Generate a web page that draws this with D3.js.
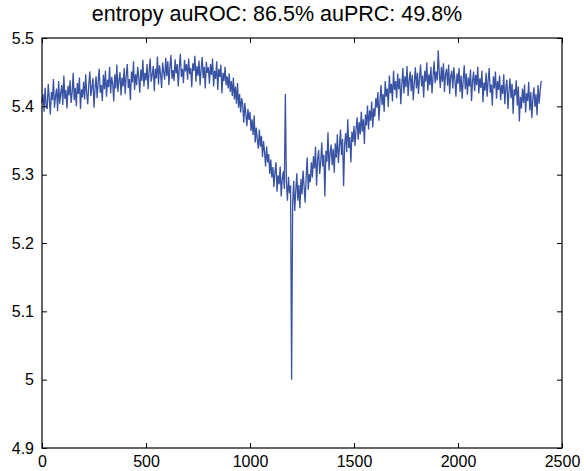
<!DOCTYPE html>
<html>
<head>
<meta charset="utf-8">
<script src="https://cdn.jsdelivr.net/npm/d3@7"></script>
<style>
  body { margin: 0; background: #fff; }
  svg text { font-family: "Liberation Sans", Arial, Helvetica, sans-serif; fill: #000; }
</style>
</head>
<body>
<div id="vis1"></div>
<script>
const FRAME_HEIGHT = 471;
const FRAME_WIDTH = 584;
const MARGINS = {left: 42, right: 22, top: 38, bottom: 23};

const VIS_HEIGHT = FRAME_HEIGHT - MARGINS.top - MARGINS.bottom;
const VIS_WIDTH = FRAME_WIDTH - MARGINS.left - MARGINS.right;

const TITLE = 'entropy auROC: 86.5% auPRC: 49.8%';

const X_TICKS = [0, 500, 1000, 1500, 2000, 2500];
const X_TICK_LABELS = ['0', '500', '1000', '1500', '2000', '2500'];
const Y_TICKS = [4.9, 5, 5.1, 5.2, 5.3, 5.4, 5.5];
const Y_TICK_LABELS = ['4.9', '5', '5.1', '5.2', '5.3', '5.4', '5.5'];

// sample spacing of the values below
const STEP = 5;

// entropy per sample (every 5th sample, one row = 100 samples)
const ENTROPY = [
  5.405, 5.418, 5.392, 5.427, 5.401, 5.396, 5.433, 5.412, 5.388, 5.421, 5.409, 5.440, 5.398, 5.415, 5.426, 5.393, 5.437, 5.404, 5.419, 5.431,
  5.402, 5.445, 5.411, 5.424, 5.397, 5.430, 5.416, 5.438, 5.405, 5.421, 5.449, 5.409, 5.427, 5.400, 5.434, 5.418, 5.442, 5.396, 5.425, 5.413,
  5.436, 5.410, 5.447, 5.419, 5.403, 5.432, 5.451, 5.415, 5.428, 5.441, 5.398, 5.426, 5.444, 5.412, 5.435, 5.455, 5.420, 5.431, 5.408, 5.446,
  5.425, 5.452, 5.414, 5.439, 5.428, 5.458, 5.419, 5.443, 5.433, 5.407, 5.447, 5.426, 5.461, 5.421, 5.438, 5.450, 5.416, 5.442, 5.429, 5.456,
  5.418, 5.445, 5.462, 5.427, 5.440, 5.409, 5.451, 5.435, 5.466, 5.424, 5.447, 5.431, 5.458, 5.443, 5.420, 5.454, 5.437, 5.468, 5.429, 5.449,
  5.438, 5.462, 5.425, 5.451, 5.470, 5.436, 5.447, 5.459, 5.422, 5.455, 5.441, 5.473, 5.432, 5.460, 5.448, 5.427, 5.464, 5.450, 5.439, 5.471,
  5.444, 5.466, 5.431, 5.458, 5.475, 5.440, 5.453, 5.437, 5.469, 5.448, 5.462, 5.429, 5.457, 5.477, 5.443, 5.455, 5.434, 5.468, 5.451, 5.462,
  5.439, 5.470, 5.447, 5.456, 5.428, 5.463, 5.452, 5.474, 5.436, 5.459, 5.445, 5.467, 5.431, 5.454, 5.472, 5.441, 5.458, 5.426, 5.465, 5.449,
  5.457, 5.433, 5.462, 5.446, 5.470, 5.429, 5.452, 5.440, 5.466, 5.424, 5.455, 5.443, 5.461, 5.419, 5.449, 5.437, 5.458, 5.431, 5.444, 5.426,
  5.448, 5.421, 5.437, 5.415, 5.442, 5.410, 5.429, 5.404, 5.434, 5.398, 5.418, 5.391, 5.412, 5.402, 5.376, 5.405, 5.389, 5.371, 5.396, 5.380,
  5.392, 5.364, 5.381, 5.358, 5.387, 5.347, 5.369, 5.352, 5.338, 5.366, 5.341, 5.357, 5.326, 5.349, 5.333, 5.312, 5.341, 5.318, 5.330, 5.301,
  5.322, 5.296, 5.311, 5.282, 5.304, 5.318, 5.275, 5.299, 5.286, 5.312, 5.268, 5.293, 5.305, 5.279, 5.418, 5.288, 5.262, 5.297, 5.273, 5.284,
  5.000, 5.258, 5.291, 5.247, 5.276, 5.302, 5.262, 5.285, 5.251, 5.294, 5.271, 5.306, 5.283, 5.259, 5.297, 5.325, 5.278, 5.301, 5.289, 5.318,
  5.296, 5.327, 5.309, 5.341, 5.284, 5.322, 5.336, 5.301, 5.318, 5.347, 5.312, 5.329, 5.268, 5.335, 5.319, 5.362, 5.306, 5.331, 5.344, 5.314,
  5.338, 5.303, 5.346, 5.325, 5.359, 5.317, 5.341, 5.366, 5.329, 5.352, 5.283, 5.344, 5.361, 5.333, 5.381, 5.339, 5.355, 5.318, 5.363, 5.348,
  5.371, 5.342, 5.366, 5.384, 5.351, 5.377, 5.359, 5.392, 5.363, 5.381, 5.345, 5.388, 5.372, 5.401, 5.366, 5.394, 5.379, 5.407, 5.369, 5.397,
  5.385, 5.412, 5.398, 5.421, 5.379, 5.408, 5.431, 5.402, 5.418, 5.392, 5.437, 5.414, 5.426, 5.399, 5.445, 5.419, 5.433, 5.407, 5.452, 5.424,
  5.437, 5.412, 5.448, 5.425, 5.441, 5.403, 5.432, 5.456, 5.419, 5.444, 5.428, 5.459, 5.415, 5.438, 5.451, 5.422, 5.446, 5.409, 5.435, 5.457,
  5.426, 5.449, 5.418, 5.442, 5.461, 5.429, 5.445, 5.413, 5.452, 5.436, 5.464, 5.423, 5.447, 5.431, 5.458, 5.419, 5.443, 5.466, 5.434, 5.451,
  5.438, 5.482, 5.449, 5.427, 5.458, 5.436, 5.463, 5.421, 5.447, 5.455, 5.430, 5.461, 5.418, 5.444, 5.452, 5.426, 5.457, 5.439, 5.414, 5.448,
  5.433, 5.456, 5.421, 5.445, 5.411, 5.439, 5.460, 5.425, 5.448, 5.417, 5.442, 5.429, 5.454, 5.408, 5.437, 5.451, 5.422, 5.446, 5.431, 5.458,
  5.419, 5.441, 5.427, 5.452, 5.406, 5.435, 5.423, 5.449, 5.414, 5.438, 5.456, 5.420, 5.432, 5.401, 5.444, 5.426, 5.451, 5.411, 5.437, 5.424,
  5.445, 5.409, 5.431, 5.418, 5.447, 5.403, 5.427, 5.439, 5.396, 5.422, 5.441, 5.412, 5.433, 5.389, 5.425, 5.416, 5.438, 5.401, 5.429, 5.378,
  5.414, 5.397, 5.426, 5.405, 5.432, 5.391, 5.419, 5.408, 5.436, 5.394, 5.421, 5.383, 5.412, 5.428, 5.399, 5.418, 5.387, 5.431, 5.404, 5.423,
  5.437
];

const FRAME1 = d3.select('#vis1')
  .append('svg')
    .attr('height', FRAME_HEIGHT)
    .attr('width', FRAME_WIDTH)
    .attr('class', 'frame');

const X_SCALE = d3.scaleLinear()
  .domain([0, 2500])
  .range([0, VIS_WIDTH]);

const Y_SCALE = d3.scaleLinear()
  .domain([4.9, 5.5])
  .range([VIS_HEIGHT, 0]);

const PLOT = FRAME1.append('g')
  .attr('transform', 'translate(' + MARGINS.left + ',' + MARGINS.top + ')');

const line = d3.line()
  .x((d, i) => X_SCALE(i * STEP))
  .y((d) => Y_SCALE(d));

PLOT.append('path')
  .datum(ENTROPY)
  .attr('d', line)
  .attr('fill', 'none')
  .attr('stroke', '#3953a4')
  .attr('stroke-width', 1.3);

function styleAxis(g) {
  g.select('.domain').remove();
  g.selectAll('.tick line').attr('stroke', '#000');
  g.selectAll('text').attr('font-size', '16px').attr('fill', '#000');
}

// bottom / left with labels, ticks pointing inward
PLOT.append('g')
  .attr('transform', 'translate(0,' + VIS_HEIGHT + ')')
  .call(d3.axisBottom(X_SCALE).tickValues(X_TICKS)
    .tickFormat((d, i) => X_TICK_LABELS[i]).tickSize(-5).tickPadding(8))
  .call(styleAxis);

PLOT.append('g')
  .call(d3.axisLeft(Y_SCALE).tickValues(Y_TICKS)
    .tickFormat((d, i) => Y_TICK_LABELS[i]).tickSize(-5).tickPadding(8))
  .call(styleAxis);

// top / right, ticks only
PLOT.append('g')
  .call(d3.axisTop(X_SCALE).tickValues(X_TICKS).tickFormat('').tickSize(-5))
  .call(styleAxis);

PLOT.append('g')
  .attr('transform', 'translate(' + VIS_WIDTH + ',0)')
  .call(d3.axisRight(Y_SCALE).tickValues(Y_TICKS).tickFormat('').tickSize(-5))
  .call(styleAxis);

PLOT.append('rect')
  .attr('width', VIS_WIDTH)
  .attr('height', VIS_HEIGHT)
  .attr('fill', 'none')
  .attr('stroke', '#000')
  .attr('stroke-width', 1.2);

FRAME1.append('text')
  .attr('x', 277)
  .attr('y', 21)
  .attr('text-anchor', 'middle')
  .attr('font-size', '21.5px')
  .text(TITLE);
</script>
</body>
</html>
